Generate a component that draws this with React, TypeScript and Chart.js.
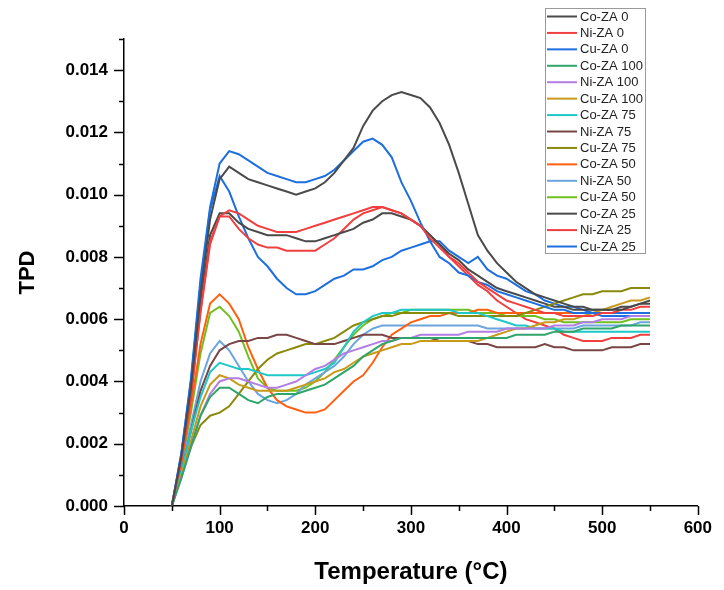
import React, { useEffect, useRef } from "react";
import { Chart, registerables } from "chart.js";

Chart.register(...registerables);

const temperatures = [50, 60, 70, 80, 90, 100, 110, 120, 130, 140, 150, 160, 170, 180, 190, 200, 210, 220, 230, 240, 250, 260, 270, 280, 290, 300, 310, 320, 330, 340, 350, 360, 370, 380, 390, 400, 410, 420, 430, 440, 450, 460, 470, 480, 490, 500, 510, 520, 530, 540, 550];

const coZA0 = [0, .0016, .0038, .0068, .0092, .0105, .0109, .0107, .0105, .0104, .0103, .0102, .0101, .0100, .0101, .0102, .0104, .0107, .0111, .0115, .0122, .0127, .0130, .0132, .0133, .0132, .0131, .0128, .0123, .0116, .0107, .0097, .0087, .0082, .0078, .0075, .0072, .0070, .0068, .0067, .0066, .0065, .0064, .0064, .0063, .0063, .0063, .0063, .0064, .0065, .0065];
const niZA0 = [0, .0015, .0035, .0063, .0085, .0093, .0095, .0094, .0092, .0090, .0089, .0088, .0088, .0088, .0089, .0090, .0091, .0092, .0093, .0094, .0095, .0096, .0096, .0095, .0094, .0092, .0090, .0086, .0083, .0080, .0078, .0075, .0072, .0070, .0068, .0066, .0065, .0064, .0063, .0062, .0062, .0061, .0061, .0061, .0061, .0062, .0062, .0063, .0063, .0064, .0064];
const cuZA0 = [0, .0017, .0041, .0073, .0096, .0110, .0114, .0113, .0111, .0109, .0107, .0106, .0105, .0104, .0104, .0105, .0106, .0108, .0111, .0114, .0117, .0118, .0116, .0112, .0104, .0098, .0091, .0085, .0080, .0078, .0075, .0074, .0072, .0071, .0069, .0068, .0067, .0066, .0065, .0064, .0063, .0063, .0062, .0062, .0062, .0062, .0062, .0062, .0062, .0062, .0062];
const coZA100 = [0, .0009, .0019, .0029, .0035, .0038, .0038, .0036, .0034, .0033, .0035, .0036, .0036, .0036, .0037, .0038, .0039, .0041, .0043, .0045, .0048, .0050, .0052, .0053, .0054, .0054, .0054, .0054, .0054, .0054, .0054, .0054, .0054, .0054, .0054, .0054, .0055, .0055, .0055, .0055, .0056, .0056, .0056, .0057, .0057, .0057, .0057, .0058, .0058, .0058, .0058];
const niZA100 = [0, .0009, .0019, .0029, .0036, .0040, .0041, .0041, .0040, .0039, .0038, .0038, .0039, .0040, .0042, .0044, .0045, .0047, .0049, .0050, .0051, .0052, .0053, .0053, .0054, .0054, .0055, .0055, .0055, .0055, .0055, .0056, .0056, .0056, .0056, .0057, .0057, .0057, .0057, .0057, .0058, .0058, .0058, .0059, .0059, .0060, .0060, .0060, .0061, .0061, .0061];
const cuZA100 = [0, .0010, .0021, .0032, .0039, .0042, .0041, .0039, .0038, .0037, .0037, .0037, .0037, .0038, .0039, .0040, .0041, .0043, .0044, .0046, .0048, .0049, .0050, .0051, .0052, .0052, .0053, .0053, .0053, .0053, .0053, .0053, .0053, .0054, .0055, .0056, .0057, .0057, .0058, .0059, .0059, .0060, .0060, .0061, .0062, .0063, .0064, .0065, .0066, .0066, .0067];
const coZA75 = [0, .0011, .0024, .0035, .0043, .0046, .0045, .0044, .0044, .0043, .0042, .0042, .0042, .0042, .0042, .0043, .0044, .0046, .0051, .0056, .0059, .0061, .0062, .0062, .0063, .0063, .0063, .0063, .0063, .0063, .0062, .0062, .0062, .0061, .0060, .0059, .0058, .0058, .0057, .0057, .0057, .0056, .0056, .0056, .0056, .0056, .0056, .0056, .0056, .0056, .0056];
const niZA75 = [0, .0011, .0024, .0037, .0045, .0050, .0052, .0053, .0053, .0054, .0054, .0055, .0055, .0054, .0053, .0052, .0052, .0052, .0053, .0054, .0055, .0055, .0055, .0054, .0054, .0054, .0054, .0054, .0053, .0053, .0053, .0053, .0052, .0052, .0051, .0051, .0051, .0051, .0051, .0052, .0051, .0051, .0050, .0050, .0050, .0050, .0051, .0051, .0051, .0052, .0052];
const cuZA75 = [0, .0010, .0019, .0026, .0029, .0030, .0032, .0036, .0040, .0044, .0047, .0049, .0050, .0051, .0052, .0052, .0053, .0054, .0056, .0058, .0059, .0060, .0061, .0061, .0062, .0062, .0062, .0062, .0062, .0062, .0061, .0061, .0061, .0061, .0061, .0061, .0061, .0062, .0063, .0064, .0065, .0066, .0067, .0068, .0068, .0069, .0069, .0069, .0070, .0070, .0070];
const coZA50 = [0, .0014, .0032, .0052, .0065, .0068, .0065, .0060, .0051, .0044, .0038, .0034, .0032, .0031, .0030, .0030, .0031, .0034, .0037, .0040, .0042, .0046, .0051, .0055, .0057, .0059, .0060, .0061, .0061, .0062, .0062, .0062, .0063, .0063, .0062, .0062, .0062, .0062, .0062, .0062, .0062, .0062, .0062, .0062, .0062, .0062, .0062, .0062, .0062, .0062, .0062];
const niZA50 = [0, .0012, .0026, .0040, .0049, .0053, .0050, .0045, .0040, .0036, .0034, .0033, .0034, .0036, .0039, .0041, .0043, .0045, .0048, .0052, .0055, .0057, .0058, .0058, .0058, .0058, .0058, .0058, .0058, .0058, .0058, .0058, .0058, .0057, .0057, .0057, .0057, .0057, .0057, .0057, .0057, .0057, .0057, .0058, .0058, .0058, .0058, .0058, .0058, .0059, .0059];
const cuZA50 = [0, .0013, .0030, .0049, .0062, .0064, .0061, .0056, .0048, .0041, .0038, .0037, .0037, .0037, .0038, .0040, .0043, .0047, .0051, .0055, .0058, .0060, .0061, .0062, .0062, .0063, .0063, .0063, .0063, .0063, .0063, .0063, .0062, .0062, .0062, .0061, .0061, .0061, .0061, .0060, .0060, .0059, .0059, .0059, .0059, .0059, .0059, .0059, .0060, .0060, .0060];
const coZA25 = [0, .0015, .0036, .0065, .0087, .0094, .0094, .0091, .0089, .0088, .0087, .0087, .0087, .0086, .0085, .0085, .0086, .0087, .0088, .0089, .0091, .0092, .0094, .0094, .0093, .0092, .0090, .0087, .0084, .0081, .0079, .0076, .0074, .0072, .0070, .0069, .0068, .0067, .0066, .0065, .0064, .0064, .0063, .0063, .0063, .0063, .0063, .0064, .0064, .0065, .0066];
const niZA25 = [0, .0015, .0035, .0062, .0084, .0093, .0093, .0089, .0086, .0084, .0083, .0083, .0082, .0082, .0082, .0082, .0084, .0086, .0089, .0092, .0094, .0095, .0096, .0095, .0094, .0092, .0090, .0087, .0084, .0080, .0077, .0074, .0071, .0069, .0066, .0064, .0062, .0060, .0059, .0058, .0057, .0055, .0054, .0053, .0053, .0053, .0054, .0054, .0054, .0055, .0055];
const cuZA25 = [0, .0017, .0040, .0071, .0095, .0106, .0101, .0093, .0086, .0080, .0077, .0073, .0070, .0068, .0068, .0069, .0071, .0073, .0074, .0076, .0076, .0077, .0079, .0080, .0082, .0083, .0084, .0085, .0085, .0082, .0080, .0078, .0080, .0076, .0074, .0073, .0071, .0069, .0068, .0066, .0065, .0064, .0064, .0063, .0062, .0061, .0061, .0061, .0061, .0061, .0061];

const seriesLabels = ["Co-ZA 0", "Ni-ZA 0", "Cu-ZA 0", "Co-ZA 100", "Ni-ZA 100", "Cu-ZA 100", "Co-ZA 75", "Ni-ZA 75", "Cu-ZA 75", "Co-ZA 50", "Ni-ZA 50", "Cu-ZA 50", "Co-ZA 25", "Ni-ZA 25", "Cu-ZA 25"];
const seriesValues = [coZA0, niZA0, cuZA0, coZA100, niZA100, cuZA100, coZA75, niZA75, cuZA75, coZA50, niZA50, cuZA50, coZA25, niZA25, cuZA25];
const seriesColors = ["#4a4a4a", "#f03f3f", "#1d6fe0", "#2ea56a", "#b27ee4", "#c89a1a", "#1ec8c8", "#7a4545", "#8a8a0a", "#ff6010", "#6aa5de", "#70c020", "#4a4a4a", "#f03f3f", "#1d6fe0"];

const xTickLabels = ["0", "100", "200", "300", "400", "500", "600"];
const yTickLabels = ["0.000", "0.002", "0.004", "0.006", "0.008", "0.010", "0.012", "0.014"];

const FONT = "'Liberation Sans', Arial, sans-serif";

const tickMarks = {
  id: "tickMarks",
  afterDraw(chart: any) {
    const { ctx, scales } = chart;
    const x = scales.x;
    const y = scales.y;
    ctx.save();
    ctx.strokeStyle = "#000";
    ctx.lineWidth = 1.5;
    x.ticks.forEach((t: any) => {
      const px = Math.round(x.getPixelForValue(t.value)) + 0.5;
      const major = Math.round(t.value) % 100 === 0;
      ctx.beginPath();
      ctx.moveTo(px, y.bottom);
      ctx.lineTo(px, y.bottom + (major ? 9 : 5));
      ctx.stroke();
    });
    y.ticks.forEach((t: any) => {
      const py = Math.round(y.getPixelForValue(t.value)) + 0.5;
      const major = Math.round(t.value * 1000) % 2 === 0;
      ctx.beginPath();
      ctx.moveTo(x.left, py);
      ctx.lineTo(x.left - (major ? 10 : 5), py);
      ctx.stroke();
    });
    ctx.restore();
  },
};

const boxLegend = {
  id: "boxLegend",
  afterDraw(chart: any) {
    const { ctx } = chart;
    const left = 545, top = 8, width = 100, height = 245;
    ctx.save();
    ctx.fillStyle = "#fff";
    ctx.fillRect(left, top, width, height);
    ctx.strokeStyle = "#9a9a9a";
    ctx.lineWidth = 1;
    ctx.strokeRect(left + 0.5, top + 0.5, width, height);
    ctx.font = `13px ${FONT}`;
    ctx.textBaseline = "middle";
    ctx.textAlign = "left";
    chart.data.datasets.forEach((ds: any, i: number) => {
      const yy = top + 8.5 + i * 16.43;
      ctx.strokeStyle = ds.borderColor;
      ctx.lineWidth = 2;
      ctx.beginPath();
      ctx.moveTo(547, yy);
      ctx.lineTo(577, yy);
      ctx.stroke();
      ctx.fillStyle = "#222";
      ctx.fillText(ds.label, 580, yy + 0.5);
    });
    ctx.restore();
  },
};

export default function App() {
  const ref = useRef<HTMLCanvasElement | null>(null);
  useEffect(() => {
    const canvas = ref.current;
    if (!canvas) return;
    const datasets = seriesLabels.map((label, i) => ({
      label,
      data: temperatures.map((t, j) => ({ x: t, y: seriesValues[i][j] })),
      borderColor: seriesColors[i],
      backgroundColor: seriesColors[i],
      borderWidth: 2,
      pointRadius: 0,
      tension: 0,
      fill: false,
    }));
    const chart = new Chart(canvas, {
      type: "line",
      data: { datasets },
      plugins: [tickMarks, boxLegend],
      options: {
        animation: false,
        responsive: false,
        devicePixelRatio: 1,
        layout: { padding: { top: 39, right: 20, left: 0, bottom: 0 } },
        plugins: { legend: { display: false }, tooltip: { enabled: false } },
        scales: {
          x: {
            type: "linear",
            min: 0,
            max: 600,
            grid: { display: false, drawTicks: false },
            border: { display: true, color: "#000", width: 1.5 },
            ticks: {
              stepSize: 50,
              autoSkip: false,
              maxRotation: 0,
              padding: 12,
              color: "#000",
              font: { family: FONT, size: 17, weight: "bold" },
              callback: (v: any) => {
                const s = String(Math.round(v));
                return xTickLabels.includes(s) ? s : "";
              },
            },
            title: {
              display: true,
              text: "Temperature (°C)",
              color: "#000",
              font: { family: FONT, size: 24, weight: "bold" },
              padding: { top: 0, bottom: 3 },
            },
            afterFit: (s: any) => {
              s.height = 84;
            },
          },
          y: {
            type: "linear",
            min: 0,
            max: 0.015,
            grid: { display: false, drawTicks: false },
            border: { display: true, color: "#000", width: 1.5 },
            ticks: {
              stepSize: 0.001,
              autoSkip: false,
              padding: 16,
              color: "#000",
              font: { family: FONT, size: 17, weight: "bold" },
              callback: (v: any) => {
                const s = Number(v).toFixed(3);
                return yTickLabels.includes(s) ? s : "";
              },
            },
            title: {
              display: true,
              text: "TPD",
              color: "#000",
              font: { family: FONT, size: 22, weight: "bold" },
              padding: { top: 15, bottom: 0 },
            },
            afterFit: (s: any) => {
              s.width = 124;
            },
          },
        },
      },
    } as any);
    return () => chart.destroy();
  }, []);
  return (
    <div style={{ position: "fixed", left: 0, top: 0, width: 724, height: 590, background: "#fff" }}>
      <canvas ref={ref} width={724} height={590} />
    </div>
  );
}
